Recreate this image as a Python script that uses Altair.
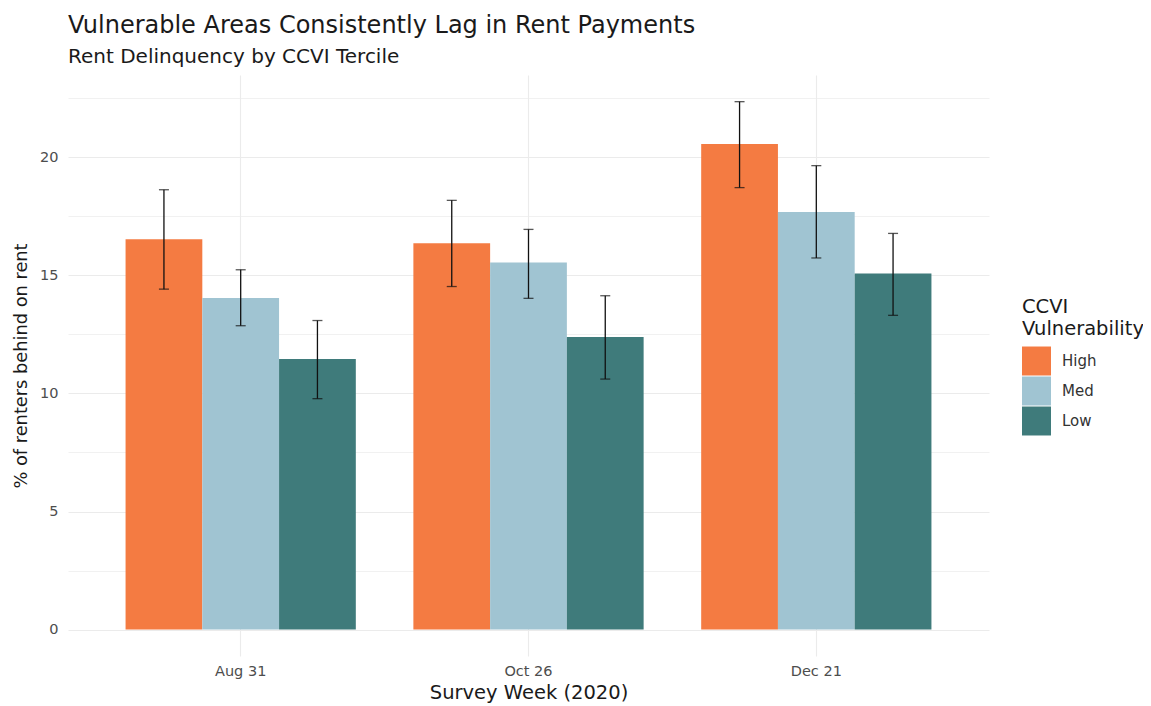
import altair as alt
import pandas as pd

weeks = ["Aug 31", "Oct 26", "Dec 21"]
groups = ["High", "Med", "Low"]
colors = ["#F47B42", "#A0C4D2", "#3F7B7B"]

high = [16.53, 16.36, 20.57]
med = [14.04, 15.55, 17.69]
low = [11.46, 12.39, 15.08]
high_lo = [14.42, 14.53, 18.72]
high_hi = [18.63, 18.18, 22.36]
med_lo = [12.87, 14.03, 15.74]
med_hi = [15.24, 16.95, 19.65]
low_lo = [9.78, 10.61, 13.31]
low_hi = [13.09, 14.14, 16.78]

rows = []
for g, v, lo, hi in [("High", high, high_lo, high_hi), ("Med", med, med_lo, med_hi), ("Low", low, low_lo, low_hi)]:
    for i, w in enumerate(weeks):
        rows.append({"week": w, "group": g, "value": v[i], "lo": lo[i], "hi": hi[i]})
df = pd.DataFrame(rows)

FONT = "DejaVu Sans"

x = alt.X("week:N", sort=weeks, title="Survey Week (2020)",
          scale=alt.Scale(paddingInner=0.2, paddingOuter=0.2),
          axis=alt.Axis(labelAngle=0, bandPosition=0.5, domain=False, ticks=False,
                        grid=True, gridColor="#EBEBEB", gridWidth=1.1,
                        labelPadding=8, labelFontSize=14.5, labelColor="#4D4D4D",
                        titleFontSize=19.5, titleFontWeight="normal", titleColor="#1A1A1A",
                        titlePadding=6))
xo = alt.XOffset("group:N", sort=groups, scale=alt.Scale(paddingInner=0, paddingOuter=0))
yscale = alt.Scale(domain=[-1.12, 23.49], nice=False, zero=False)

bars = alt.Chart(df).mark_bar().encode(
    x=x, xOffset=xo,
    y=alt.Y("value:Q", scale=yscale, title="% of renters behind on rent",
            axis=alt.Axis(values=[0, 2.5, 5, 7.5, 10, 12.5, 15, 17.5, 20, 22.5],
                          labelExpr="datum.value % 5 === 0 ? format(datum.value, 'd') : ''",
                          domain=False, ticks=False, grid=True, gridColor="#EBEBEB",
                          gridWidth={"condition": {"test": "datum.value % 5 === 0", "value": 1.1}, "value": 0.7},
                          labelPadding=10, labelFontSize=14.5, labelColor="#4D4D4D",
                          titleFontSize=17.8, titleFontWeight="normal", titleColor="#1A1A1A",
                          titlePadding=9)),
    y2=alt.datum(0),
    color=alt.Color("group:N", sort=groups,
                    scale=alt.Scale(domain=groups, range=colors),
                    legend=alt.Legend(title=["CCVI", "Vulnerability"], orient="none",
                                      legendX=954, legendY=223,
                                      titleFontSize=19.5, titleFontWeight="normal", titleColor="#1A1A1A",
                                      titlePadding=7, titleLineHeight=22,
                                      labelFontSize=15, labelColor="#333333", labelOffset=11,
                                      symbolType="square", symbolSize=840, symbolStrokeWidth=0,
                                      symbolOpacity=1, rowPadding=1)),
)

rule = alt.Chart(df).mark_rule(color="#111111", strokeWidth=1.3).encode(
    x=alt.X("week:N", sort=weeks), xOffset=xo,
    y=alt.Y("lo:Q", scale=yscale), y2="hi:Q")

cap_lo = alt.Chart(df).mark_tick(color="#111111", thickness=1.3, size=10).encode(
    x=alt.X("week:N", sort=weeks), xOffset=xo, y=alt.Y("lo:Q", scale=yscale))
cap_hi = alt.Chart(df).mark_tick(color="#111111", thickness=1.3, size=10).encode(
    x=alt.X("week:N", sort=weeks), xOffset=xo, y=alt.Y("hi:Q", scale=yscale))

chart = alt.layer(bars, rule, cap_lo, cap_hi).properties(
    width=921, height=581,
    autosize=alt.AutoSizeParams(type="none"),
    padding={"left": 60, "top": 67, "right": 154, "bottom": 52},
    title=alt.TitleParams(text="Vulnerable Areas Consistently Lag in Rent Payments",
                          subtitle="Rent Delinquency by CCVI Tercile",
                          anchor="start", frame="group", fontSize=24, fontWeight="normal",
                          color="#1A1A1A", subtitleFontSize=20, subtitleColor="#1A1A1A",
                          subtitlePadding=9, offset=8, font=FONT, subtitleFont=FONT),
).configure(font=FONT).configure_view(stroke=None)

chart.save("out.html", embed_options={"renderer": "svg", "actions": False})
